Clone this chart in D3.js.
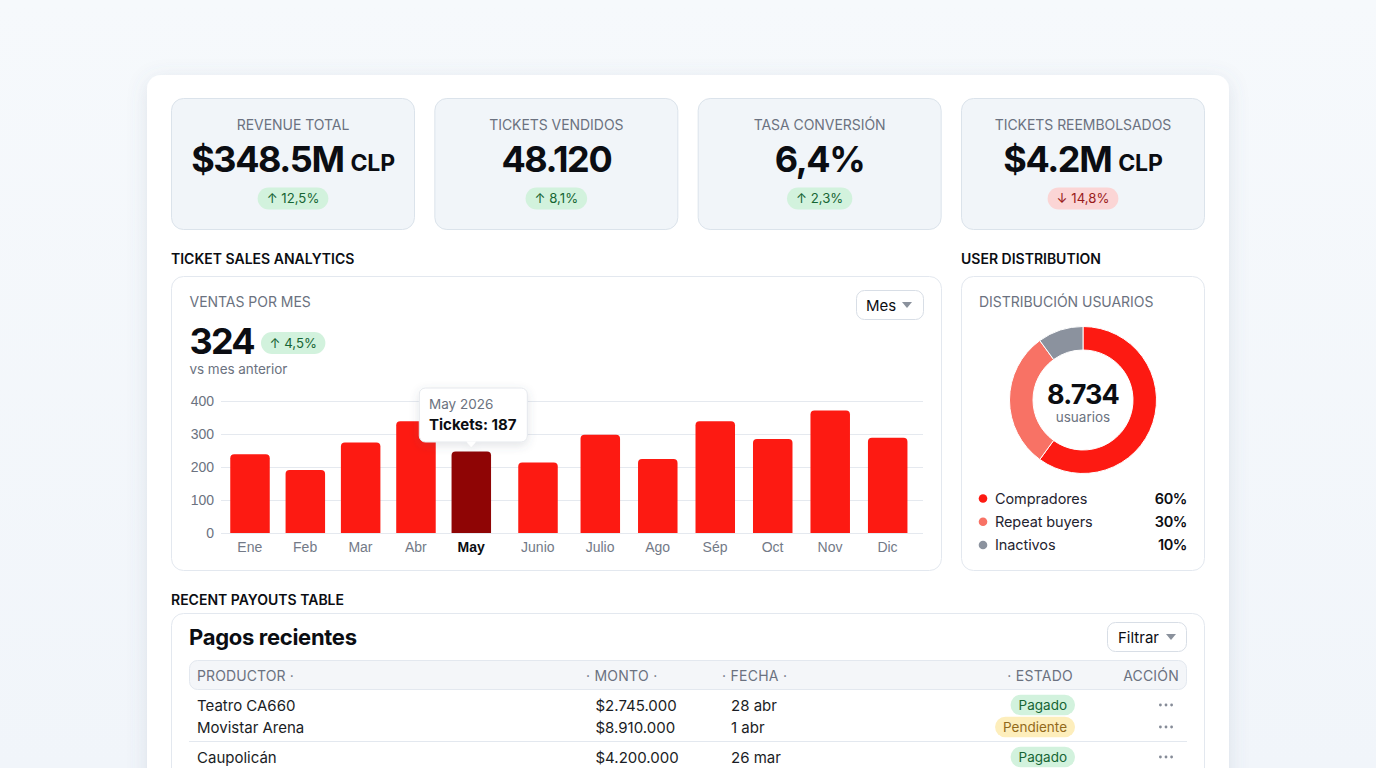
<!DOCTYPE html>
<html>
<head>
<meta charset="utf-8">
<script src="https://cdn.jsdelivr.net/npm/d3@7"></script>
<style>
  html, body { margin: 0; padding: 0; overflow: hidden; background: #f5f8fb; }
  svg { display: block; font-family: Inter, "Noto Sans", sans-serif; }
</style>
</head>
<body>
<svg id="Viz" width="1376" height="768"></svg>
<script>
  // kpi cards
  var kpiLabels = ['REVENUE TOTAL', 'TICKETS VENDIDOS', 'TASA CONVERSIÓN', 'TICKETS REEMBOLSADOS'];
  var kpiValues = ['$348.5M', '48.120', '6,4%', '$4.2M'];
  var kpiUnits = ['CLP', '', '', 'CLP'];
  var kpiDeltas = ['↑ 12,5%', '↑ 8,1%', '↑ 2,3%', '↓ 14,8%'];
  var kpiDeltaKinds = ['up', 'up', 'up', 'down'];

  // bar chart
  var months = ['Ene', 'Feb', 'Mar', 'Abr', 'May', 'Junio', 'Julio', 'Ago', 'Sép', 'Oct', 'Nov', 'Dic'];
  var tickets = [239, 191, 274, 339, 247, 214, 298, 224, 339, 285, 371, 289];
  var yTicks = [0, 100, 200, 300, 400];
  var selectedMonth = 'May';

  // donut
  var segments = ['Compradores', 'Repeat buyers', 'Inactivos'];
  var shares = [60, 30, 10];

  // table
  var producers = ['Teatro CA660', 'Movistar Arena', 'Caupolicán'];
  var amounts = ['$2.745.000', '$8.910.000', '$4.200.000'];
  var dates = ['28 abr', '1 abr', '26 mar'];
  var statuses = ['Pagado', 'Pendiente', 'Pagado'];

  var ink = '#0b0d12', grey = '#6b7280', line = '#e3e8ef';
  var pillColors = {
    up: ['#d2f2dd', '#166534'],
    down: ['#fbd5d5', '#991b1b'],
    Pagado: ['#d2f2dd', '#166534'],
    Pendiente: ['#fdeebc', '#92691a']
  };

  var svg = d3.select('#Viz');
  var defs = svg.append('defs');

  var bg = defs.append('linearGradient').attr('id', 'bg').attr('x1', 0).attr('y1', 0).attr('x2', 0).attr('y2', 1);
  bg.append('stop').attr('offset', 0).attr('stop-color', '#f6f9fc');
  bg.append('stop').attr('offset', 1).attr('stop-color', '#f1f5fa');

  var sh = defs.append('filter').attr('id', 'cardShadow')
    .attr('x', '-5%').attr('y', '-8%').attr('width', '110%').attr('height', '116%');
  sh.append('feDropShadow').attr('dx', 0).attr('dy', 4).attr('stdDeviation', 10)
    .attr('flood-color', '#64748b').attr('flood-opacity', 0.16);

  var tipSh = defs.append('filter').attr('id', 'tipShadow')
    .attr('x', '-20%').attr('y', '-30%').attr('width', '140%').attr('height', '170%');
  tipSh.append('feDropShadow').attr('dx', 0).attr('dy', 3).attr('stdDeviation', 5)
    .attr('flood-color', '#475569').attr('flood-opacity', 0.16);

  function box(x, y, w, h, r, fill, stroke) {
    return svg.append('rect').attr('x', x + 0.5).attr('y', y + 0.5).attr('width', w - 1).attr('height', h - 1)
      .attr('rx', r).attr('fill', fill).attr('stroke', stroke || 'none');
  }

  function label(parent, x, y, str, size, color, weight, anchor, spacing) {
    return parent.append('text').attr('x', x).attr('y', y).text(str)
      .attr('font-size', size).attr('fill', color).attr('font-weight', weight || 400)
      .attr('text-anchor', anchor || 'start').attr('letter-spacing', spacing || 0);
  }

  // pill whose width follows its text. anchor says which edge x refers to
  function pill(x, cy, str, kind, anchor, pad, size, h) {
    var g = svg.append('g');
    var c = pillColors[kind];
    var bgRect = g.append('rect').attr('fill', c[0]);
    var t = label(g, 0, cy + 4.8, str, size, c[1], 400, 'start', 0);
    var w = t.node().getComputedTextLength() + pad * 2;
    var left = anchor == 'middle' ? x - w / 2 : anchor == 'end' ? x - w : x;
    bgRect.attr('x', left).attr('y', cy - h / 2).attr('width', w).attr('height', h).attr('rx', h / 2);
    t.attr('x', left + pad);
  }

  function dropdown(x, y, w, h, str, textX, caretX) {
    box(x, y, w, h, 8, '#fff', '#d8dee6');
    label(svg, textX, y + 21, str, 15, ink);
    svg.append('path').attr('fill', '#8a919c')
      .attr('d', d3.line()([[caretX - 5, y + 12], [caretX + 5, y + 12], [caretX, y + 18]]) + 'Z');
  }

  svg.append('rect').attr('width', 1376).attr('height', 768).attr('fill', 'url(#bg)');

  // main sheet
  svg.append('rect').attr('x', 147).attr('y', 75).attr('width', 1082).attr('height', 760).attr('rx', 14)
    .attr('fill', '#fff').attr('filter', 'url(#cardShadow)');

  // KPI row
  var kpiX = d3.scaleBand().domain(d3.range(4)).range([171, 1205]).paddingInner(0.0734);
  kpiLabels.forEach(function(name, i) {
    var x = kpiX(i), w = kpiX.bandwidth(), mid = x + w / 2;
    box(x, 98, w, 132, 12, '#f1f5f9', '#dbe3eb');
    label(svg, mid, 130, name, 14, grey, 400, 'middle', -0.05);

    var v = label(svg, mid, 172, kpiValues[i], 36, ink, 700, 'middle', -1.4);
    if (kpiUnits[i]) {
      var u = label(svg, mid, 171, kpiUnits[i], 23, ink, 700, 'start', -0.2);
      var vw = v.node().getComputedTextLength(), uw = u.node().getComputedTextLength(), gap = 7;
      var start = mid - (vw + gap + uw) / 2;
      v.attr('text-anchor', 'start').attr('x', start);
      u.attr('x', start + vw + gap);
    }
    pill(mid, 198.5, kpiDeltas[i], kpiDeltaKinds[i], 'middle', 9, 13.2, 22);
  });

  // bar chart panel
  label(svg, 171, 263.5, 'TICKET SALES ANALYTICS', 14, ink, 600);
  box(171, 276, 771, 295, 12, '#fff', line);
  label(svg, 189.5, 307, 'VENTAS POR MES', 14, grey, 400, 'start', -0.03);
  label(svg, 189.5, 354, '324', 36, ink, 700, 'start', -1.8);
  pill(261, 343, '↑ 4,5%', 'up', 'start', 8.5, 13.2, 22);
  label(svg, 189.5, 374, 'vs mes anterior', 13.5, grey, 400, 'start', -0.05);
  dropdown(856, 290, 68, 30, 'Mes', 866, 907);

  // the columns are not evenly spaced in the picture, so x is piecewise
  var x = d3.scaleLinear().domain([0, 4, 5, 6, 11]).range([250, 471.3, 538, 600.3, 887.7]);
  var y = d3.scaleLinear().domain([0, 400]).range([533, 401]);
  var barW = 39.5, barR = 4;

  svg.append('g').attr('transform', 'translate(221,0)')
    .call(d3.axisLeft(y).tickValues(yTicks).tickSize(-702).tickPadding(7))
    .call(function(g) {
      g.select('.domain').remove();
      g.selectAll('line').attr('stroke', '#e5e9ef');
      g.selectAll('text').attr('font-size', 14).attr('fill', grey).attr('font-family', 'inherit');
    });

  svg.append('g').selectAll('path').data(tickets).enter().append('path')
    .attr('d', function(d, i) {
      var l = x(i) - barW / 2, r = x(i) + barW / 2, t = y(d), b = y(0);
      return 'M' + l + ',' + b + 'V' + (t + barR) + 'Q' + l + ',' + t + ' ' + (l + barR) + ',' + t +
        'H' + (r - barR) + 'Q' + r + ',' + t + ' ' + r + ',' + (t + barR) + 'V' + b + 'Z';
    })
    .attr('fill', function(d, i) { return months[i] == selectedMonth ? '#8f0505' : '#fd1a12'; });

  svg.append('g').attr('transform', 'translate(-0.7,533)')
    .call(d3.axisBottom(x).tickValues(d3.range(months.length)).tickSize(0).tickPadding(9)
      .tickFormat(function(i) { return months[i]; }))
    .call(function(g) {
      g.select('.domain').remove();
      g.selectAll('text').attr('font-size', 14).attr('font-family', 'inherit')
        .attr('fill', function(i) { return months[i] == selectedMonth ? ink : '#737a87'; })
        .attr('font-weight', function(i) { return months[i] == selectedMonth ? 700 : 400; });
    });

  // tooltip over the selected bar
  var tipX = x(months.indexOf(selectedMonth));
  var tip = svg.append('g').attr('filter', 'url(#tipShadow)');
  tip.append('rect').attr('x', tipX - 52).attr('y', 388).attr('width', 108).attr('height', 54).attr('rx', 6)
    .attr('fill', '#fff').attr('stroke', '#e5e8ed');
  tip.append('path').attr('fill', '#fff')
    .attr('d', d3.line()([[tipX - 5, 441.5], [tipX + 5, 441.5], [tipX, 447]]) + 'Z');
  label(svg, tipX - 42.3, 408.5, 'May 2026', 13.5, grey);
  label(svg, tipX - 42.3, 429.5, 'Tickets: 187', 15, ink, 700);

  // donut panel
  label(svg, 961, 263.5, 'USER DISTRIBUTION', 14, ink, 600);
  box(961, 276, 244, 295, 12, '#fff', line);
  label(svg, 979, 307, 'DISTRIBUCIÓN USUARIOS', 14, grey, 400, 'start', -0.03);

  var segColor = d3.scaleOrdinal().domain(segments).range(['#fd1a12', '#f87265', '#8b929e']);
  var pie = d3.pie().sort(null);
  var arc = d3.arc().innerRadius(50).outerRadius(73.5);
  var donut = svg.append('g').attr('transform', 'translate(1083,400)');
  donut.selectAll('path').data(pie(shares)).enter().append('path')
    .attr('d', arc)
    .attr('fill', function(d, i) { return segColor(segments[i]); })
    .attr('stroke', '#fff').attr('stroke-width', 1);
  label(donut, 0, 4, '8.734', 27, ink, 700, 'middle', -0.9);
  label(donut, 0, 22, 'usuarios', 13.5, grey, 400, 'middle');

  var legendY = d3.scalePoint().domain(segments).range([498.5, 545]);
  segments.forEach(function(name, i) {
    var ly = legendY(name);
    svg.append('circle').attr('cx', 983).attr('cy', ly).attr('r', 4.3).attr('fill', segColor(name));
    label(svg, 995, ly + 5, name, 14.5, '#1f2430', 400, 'start', -0.1);
    label(svg, 1187, ly + 5, shares[i] + '%', 14.5, ink, 600, 'end', -0.4);
  });

  // table panel
  label(svg, 171, 605, 'RECENT PAYOUTS TABLE', 14, ink, 600);
  box(171, 613, 1034, 240, 12, '#fff', line);
  label(svg, 189, 645, 'Pagos recientes', 22, ink, 700, 'start', -0.3);
  dropdown(1107, 622, 80, 30, 'Filtrar', 1118, 1171);

  box(189, 660, 998, 30, 8, '#f4f6f9', '#e3e8ef');
  label(svg, 197, 680.5, 'PRODUCTOR ·', 14, grey, 400, 'start', 0.1);
  label(svg, 586, 680.5, '· MONTO ·', 14, grey, 400, 'start', 0.25);
  label(svg, 722, 680.5, '· FECHA ·', 14, grey, 400, 'start', 0.25);
  label(svg, 1073, 680.5, '· ESTADO', 14, grey, 400, 'end', 0.25);
  label(svg, 1179, 680.5, 'ACCIÓN', 14, grey, 400, 'end', 0.2);

  var rowY = d3.scaleOrdinal().domain(producers).range([705, 727, 757]);
  svg.append('line').attr('x1', 189).attr('x2', 1187).attr('y1', 741.5).attr('y2', 741.5).attr('stroke', '#e3e8ef');
  producers.forEach(function(name, i) {
    var ry = rowY(name);
    label(svg, 197, ry + 5.8, name, 15, '#1a1d24');
    label(svg, 595.5, ry + 5.8, amounts[i], 15, '#1a1d24');
    label(svg, 731, ry + 5.8, dates[i], 15, '#1a1d24');
    pill(1075, ry, statuses[i], statuses[i], 'end', 8, 13.5, 20.5);
    [-5.6, 0, 5.6].forEach(function(o) {
      svg.append('circle').attr('cx', 1166 + o).attr('cy', ry).attr('r', 1.4).attr('fill', '#858b97');
    });
  });
</script>
</body>
</html>
